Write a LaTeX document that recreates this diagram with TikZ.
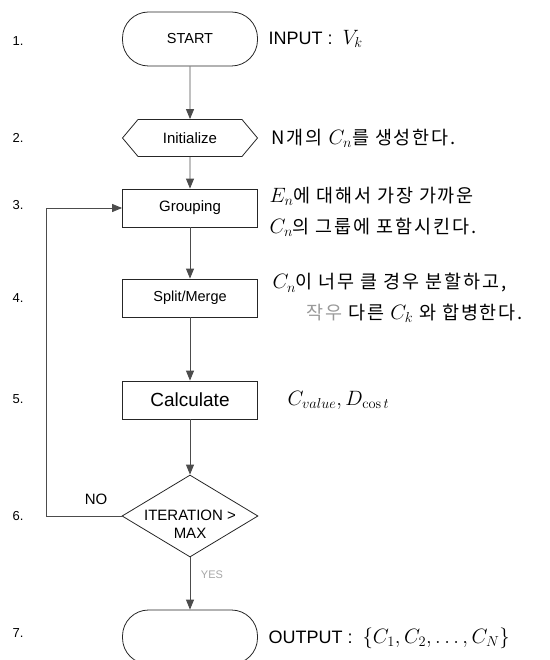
\documentclass[tikz,border=0pt]{standalone}
\usepackage[no-math]{fontspec}
\setmainfont{Liberation Sans}
\newfontfamily\krfont[LetterSpace=10]{Noto Sans CJK KR}
\newcommand{\bigmath}[1]{{\fontsize{21}{21}\selectfont$#1$}}
\usepackage{tikz}
\usetikzlibrary{positioning,arrows.meta,shapes.geometric,shapes.symbols}

\begin{document}
\begin{tikzpicture}[x=1pt, y=-1pt,
  fcterm/.style={rectangle, rounded corners=26pt, draw=black!85, line width=0.8pt, minimum width=135pt, minimum height=54pt, inner sep=0pt, font={\fontsize{14.5}{16}\selectfont}},
  fcprep/.style={signal, signal to=west and east, signal pointer angle=100, draw=black!85, line width=0.8pt, minimum width=135pt, minimum height=37pt, inner sep=0pt, font={\fontsize{15}{17}\selectfont}},
  fcbox/.style={rectangle, draw=black!85, line width=0.8pt, minimum width=135pt, minimum height=38pt, inner sep=0pt, font={\fontsize{15}{17}\selectfont}},
  fcdec/.style={diamond, draw=black!85, line width=0.8pt, minimum width=136pt, minimum height=82pt, inner sep=0pt},
  fcflow/.style={draw=black!70, line width=0.9pt, -{Triangle[length=10pt,width=8pt]}},
  steplbl/.style={font={\fontsize{13}{15}\selectfont}},
  note/.style={anchor=west, font={\fontsize{18}{20}\selectfont}},
  krnote/.style={anchor=west, font={\krfont\fontsize{18.5}{20}\selectfont}}
]
\clip (0,0) rectangle (549,660);

% step numbers
\node[steplbl] (n1) at (18,41) {1.};
\node[steplbl] (n2) at (18,138) {2.};
\node[steplbl] (n3) at (18,205) {3.};
\node[steplbl] (n4) at (18,298) {4.};
\node[steplbl] (n5) at (18,399) {5.};
\node[steplbl] (n6) at (18,516) {6.};
\node[steplbl] (n7) at (18,633) {7.};

% flow chart
\node[fcterm] (start) at (190,39) {START};
\node[fcprep] (init) at (190,138) {Initialize};
\node[fcbox] (grp) at (190,208) {Grouping};
\node[fcbox, font={\fontsize{14.5}{16}\selectfont}] (split) at (190,298) {Split/Merge};
\node[fcbox, font={\fontsize{19}{21}\selectfont}] (calc) at (190,400) {Calculate};
\node[fcdec] (dec) at (190,516) {};
\node[align=center, font={\fontsize{15}{18}\selectfont}] (dectxt) at (190,524) {ITERATION >\\MAX};
\node[fcterm] (out) at (190,637) {};

\draw[fcflow] (start) -- (init);
\draw[fcflow] (init) -- (grp);
\draw[fcflow] (grp) -- (split);
\draw[fcflow] (split) -- (calc);
\draw[fcflow] (calc) -- (dec);
\draw[fcflow] (dec) -- (out);
\draw[fcflow] (dec.west) -- ++(-75,0) |- (grp.west);

\node[font={\fontsize{15}{17}\selectfont}] (nolbl) at (96,499) {NO};
\node[font={\fontsize{11}{13}\selectfont}, text=black!35] (yeslbl) at (212,575) {YES};

% notes on the right
\node[note] (inputtxt) at (265,39) {INPUT :\ \ \bigmath{V_k}};
\node[krnote] (initnote) at (268,138) {N개의\ \bigmath{C_n}를 생성한다.};
\node[krnote] (grpnote1) at (266,196) {\bigmath{E_n}에 대해서 가장 가까운};
\node[krnote] (grpnote2) at (266,227) {\bigmath{C_n}의 그룹에 포함시킨다.};
\node[krnote] (splitnote1) at (269,283) {\bigmath{C_n}이 너무 클 경우 분할하고,};
\node[krnote] (splitnote2) at (303,313) {{\color{black!40}작우} 다른 \bigmath{C_k} 와 합병한다.};
\node[note] (calcnote) at (284,400) {\bigmath{C_{value}, D_{\cos t}}};
\node[note] (outtxt) at (265,638) {OUTPUT :\ \ \bigmath{\{C_1, C_2, \ldots, C_N\}}};
\end{tikzpicture}
\end{document}
